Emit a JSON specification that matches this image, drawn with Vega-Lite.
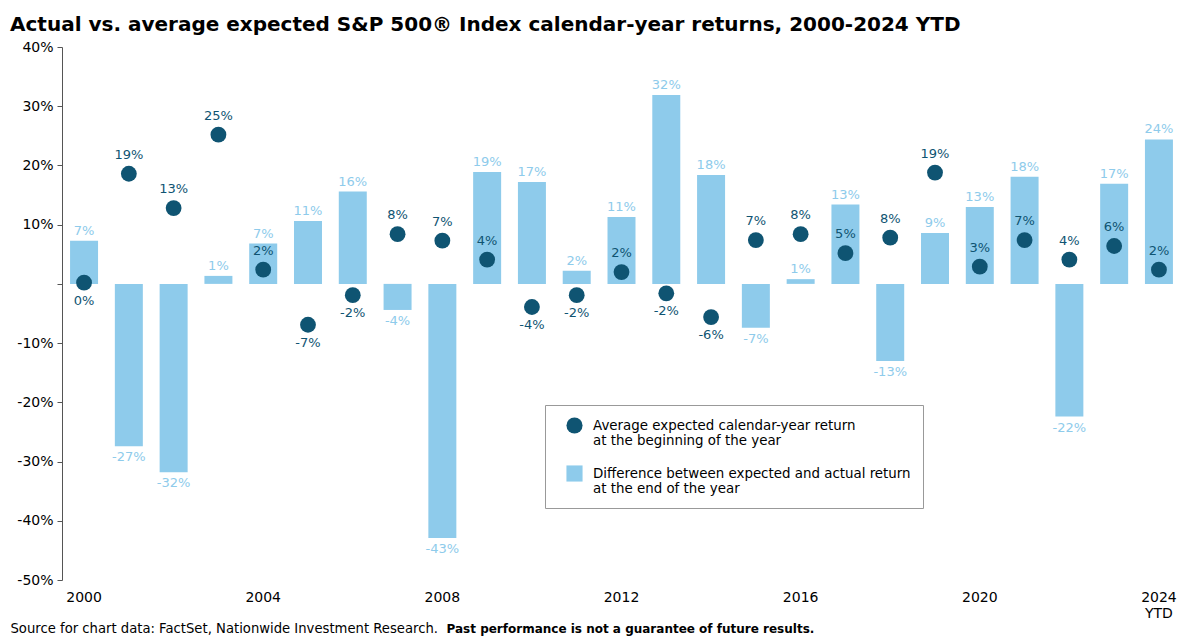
{
  "$schema": "https://vega.github.io/schema/vega-lite/v6.json",
  "autosize": {"type": "none"},
  "width": 1119,
  "height": 533,
  "padding": {"left": 62, "top": 47, "right": 19, "bottom": 60},
  "background": "white",
  "config": {
    "font": "DejaVu Sans",
    "view": {"stroke": null},
    "locale": {
      "number": {"decimal": ".", "thousands": ",", "grouping": [3], "currency": ["$", ""], "minus": "-", "percent": "%"}
    }
  },
  "title": {
    "text": "Actual vs. average expected S&P 500® Index calendar-year returns, 2000-2024 YTD",
    "anchor": "start",
    "frame": "group",
    "dx": -52,
    "fontSize": 20,
    "fontWeight": "bold",
    "color": "#000000",
    "baseline": "alphabetic",
    "offset": -11
  },
  "data": {
    "values": [
      {"year": "2000", "expected": 0.002, "diff": 0.073},
      {"year": "2001", "expected": 0.186, "diff": -0.274},
      {"year": "2002", "expected": 0.128, "diff": -0.318},
      {"year": "2003", "expected": 0.252, "diff": 0.0135},
      {"year": "2004", "expected": 0.024, "diff": 0.068},
      {"year": "2005", "expected": -0.069, "diff": 0.106},
      {"year": "2006", "expected": -0.019, "diff": 0.156},
      {"year": "2007", "expected": 0.084, "diff": -0.044},
      {"year": "2008", "expected": 0.073, "diff": -0.429},
      {"year": "2009", "expected": 0.041, "diff": 0.189},
      {"year": "2010", "expected": -0.039, "diff": 0.172},
      {"year": "2011", "expected": -0.019, "diff": 0.022},
      {"year": "2012", "expected": 0.02, "diff": 0.113},
      {"year": "2013", "expected": -0.016, "diff": 0.319},
      {"year": "2014", "expected": -0.056, "diff": 0.184},
      {"year": "2015", "expected": 0.074, "diff": -0.074},
      {"year": "2016", "expected": 0.084, "diff": 0.008},
      {"year": "2017", "expected": 0.052, "diff": 0.134},
      {"year": "2018", "expected": 0.078, "diff": -0.13},
      {"year": "2019", "expected": 0.188, "diff": 0.086},
      {"year": "2020", "expected": 0.029, "diff": 0.13},
      {"year": "2021", "expected": 0.074, "diff": 0.181},
      {"year": "2022", "expected": 0.041, "diff": -0.224},
      {"year": "2023", "expected": 0.064, "diff": 0.169},
      {"year": "2024", "expected": 0.024, "diff": 0.244}
    ]
  },
  "encoding": {
    "x": {
      "field": "year",
      "type": "ordinal",
      "sort": null,
      "scale": {"paddingInner": 0.375, "paddingOuter": 0.18},
      "axis": {
        "labelAngle": 0,
        "ticks": false,
        "domain": false,
        "labelFontSize": 14,
        "labelColor": "#000000",
        "labelPadding": 10,
        "labelLineHeight": 16,
        "labelBaseline": "top",
        "labelExpr": "datum.value == '2024' ? ['2024', 'YTD'] : (toNumber(datum.value) % 4 == 0 ? datum.value : '')",
        "title": "Source for chart data: FactSet, Nationwide Investment Research.",
        "titleX": -52,
        "titleY": 48,
        "titleAlign": "left",
        "titleAnchor": null,
        "titleBaseline": "middle",
        "titleFontSize": 13.2,
        "titleFontWeight": "normal",
        "titleColor": "#000000"
      }
    }
  },
  "layer": [
    {
      "mark": {"type": "bar", "color": "#8ecbeb"},
      "encoding": {
        "y": {
          "field": "diff",
          "type": "quantitative",
          "scale": {"domain": [-0.5, 0.4], "nice": false},
          "axis": {
            "values": [-0.5, -0.4, -0.3, -0.2, -0.1, 0, 0.1, 0.2, 0.3, 0.4],
            "format": ".0%",
            "grid": false,
            "domainColor": "#555555",
            "tickColor": "#555555",
            "tickSize": 5,
            "labelFontSize": 14,
            "labelColor": "#000000",
            "labelPadding": 4,
            "labelExpr": "datum.value == 0 ? '' : datum.label",
            "title": "Past performance is not a guarantee of future results.",
            "titleAngle": 0,
            "titleX": 384,
            "titleY": 581,
            "titleAlign": "left",
            "titleAnchor": null,
            "titleBaseline": "middle",
            "titleFontSize": 12,
            "titleFontWeight": "bold",
            "titleColor": "#000000"
          }
        },
        "color": {
          "datum": "Difference between expected and actual return|at the end of the year",
          "type": "nominal",
          "scale": {
            "domain": [
              "Average expected calendar-year return|at the beginning of the year",
              "Difference between expected and actual return|at the end of the year"
            ],
            "range": ["#0f5472", "#8ecbeb"]
          },
          "legend": {
            "orient": "none",
            "legendX": 483,
            "legendY": 358,
            "title": null,
            "strokeColor": "#999999",
            "fillColor": "white",
            "padding": 12,
            "labelExpr": "split(datum.label, '|')",
            "labelFontSize": 13.4,
            "labelColor": "#000000",
            "labelLimit": 400,
            "labelOffset": 10,
            "symbolOffset": 9,
            "symbolSize": 260,
            "rowPadding": 17,
            "symbolStrokeWidth": 0,
            "encode": {
              "symbols": {
                "update": {
                  "shape": {"signal": "indexof(datum.value, 'Average') == 0 ? 'circle' : 'square'"},
                  "opacity": {"value": 1}
                }
              }
            }
          }
        }
      }
    },
    {
      "mark": {"type": "rule", "color": "#444444", "strokeWidth": 1.5},
      "encoding": {"y": {"datum": 0}}
    },
    {
      "mark": {"type": "point", "filled": true, "size": 250, "opacity": 1, "shape": "circle"},
      "encoding": {
        "y": {"field": "expected", "type": "quantitative"},
        "color": {"datum": "Average expected calendar-year return|at the beginning of the year", "type": "nominal"}
      }
    },
    {
      "transform": [{"filter": "datum.diff >= 0"}],
      "mark": {"type": "text", "baseline": "middle", "dy": -10, "fontSize": 13, "color": "#8ecbeb"},
      "encoding": {
        "y": {"field": "diff", "type": "quantitative"},
        "text": {"field": "diff", "type": "quantitative", "format": ".0%"}
      }
    },
    {
      "transform": [{"filter": "datum.diff < 0"}],
      "mark": {"type": "text", "baseline": "middle", "dy": 11, "fontSize": 13, "color": "#8ecbeb"},
      "encoding": {
        "y": {"field": "diff", "type": "quantitative"},
        "text": {"field": "diff", "type": "quantitative", "format": ".0%"}
      }
    },
    {
      "transform": [{"filter": "datum.expected > 0.005"}],
      "mark": {"type": "text", "baseline": "middle", "dy": -19, "fontSize": 13, "color": "#0f5472"},
      "encoding": {
        "y": {"field": "expected", "type": "quantitative"},
        "text": {"field": "expected", "type": "quantitative", "format": ".0%"}
      }
    },
    {
      "transform": [{"filter": "datum.expected <= 0.005"}],
      "mark": {"type": "text", "baseline": "middle", "dy": 18, "fontSize": 13, "color": "#0f5472"},
      "encoding": {
        "y": {"field": "expected", "type": "quantitative"},
        "text": {"field": "expected", "type": "quantitative", "format": ".0%"}
      }
    }
  ]
}
